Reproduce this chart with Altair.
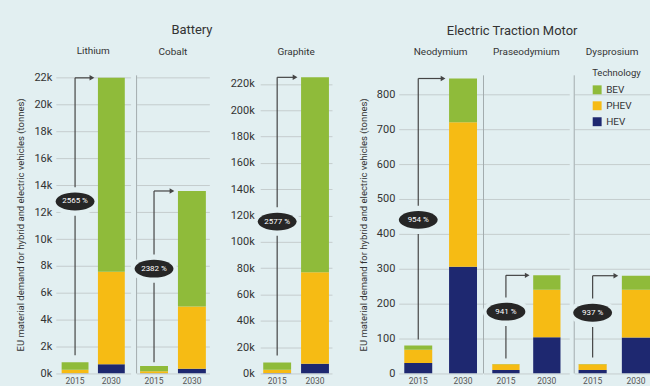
import altair as alt
import pandas as pd

# ---------------- data ----------------
materials = ["Lithium", "Cobalt", "Graphite", "Neodymium", "Praseodymium", "Dysprosium"]
years = ["2015", "2030"]
technologies = ["BEV", "PHEV", "HEV"]
tech_colors = ["#8fbb3a", "#f6bb14", "#1e2870"]

hev_2015 = [20, 10, 300, 30, 10, 10]
phev_2015 = [260, 160, 2500, 38, 16, 16]
bev_2015 = [545, 380, 5600, 12, 1, 1]
hev_2030 = [680, 350, 7300, 306, 104, 103]
phev_2030 = [6880, 4630, 69500, 414, 136, 137]
bev_2030 = [14440, 8600, 148200, 125, 41, 40]

growth_labels = ["2565 %", "2382 %", "2577 %", "954 %", "941 %", "937 %"]
badge_y = [12800, 7800, 115400, 440, 177, 174]
line_start_y = [1360, 840, 13600, 97, 43, 46]

y_max = [22185, 22185, 226500, 854, 854, 854]
li_ticks = [0, 2000, 4000, 6000, 8000, 10000, 12000, 14000, 16000, 18000, 20000, 22000]
gr_ticks = [0, 20000, 40000, 60000, 80000, 100000, 120000, 140000, 160000, 180000, 200000, 220000]
motor_ticks = [0, 100, 200, 300, 400, 500, 600, 700, 800]

AXIS_TITLE = "EU material demand for hybrid and electric vehicles (tonnes)"
K_EXPR = "datum.value / 1000 + 'k'"

# ---------------- style ----------------
BG = "#e2eff1"
LINE = "#454545"
TEXT = "#333333"
FONT = "Roboto"
H = 299
BADGE_PATH = "M-1,0A1,0.46,0,1,1,1,0A1,0.46,0,1,1,-1,0Z"
GAP_PATH = "M-1,0A1,0.62,0,1,1,1,0A1,0.62,0,1,1,-1,0Z"


def bar_frame(i):
    rows = []
    for yr, h, p, b in (("2015", hev_2015[i], phev_2015[i], bev_2015[i]),
                        ("2030", hev_2030[i], phev_2030[i], bev_2030[i])):
        rows.append(dict(year=yr, tech="HEV", value=h, ord=0))
        rows.append(dict(year=yr, tech="PHEV", value=p, ord=1))
        rows.append(dict(year=yr, tech="BEV", value=b, ord=2))
    return pd.DataFrame(rows)


def ann_frame(i):
    top = hev_2030[i] + phev_2030[i] + bev_2030[i]
    return pd.DataFrame({"year": ["2015"], "start": [line_start_y[i]], "top": [top],
                         "badge": [badge_y[i]], "label": [growth_labels[i]]})


def panel(i, width, p_inner, p_outer, ticks, label_expr=None, labels=True,
          title=None, divider=False, legend=None, align=0.5, title_offset=8, label_pad=4):
    step = width / (2 - p_inner + 2 * p_outer)
    bw = step * (1 - p_inner)
    arm = step - bw / 2 - 6

    xscale = alt.Scale(domain=years, paddingInner=p_inner, paddingOuter=p_outer, align=align)
    yscale = alt.Scale(domain=[0, y_max[i]], nice=False)

    ax = dict(values=ticks, grid=True, labels=labels, labelFontSize=11, labelPadding=label_pad)
    if label_expr:
        ax["labelExpr"] = label_expr
    if title:
        ax.update(title=title, titleFontSize=9.5, titlePadding=8)
    else:
        ax["title"] = None
    yaxis = alt.Axis(**ax)
    xaxis = alt.Axis(title=None, labelAngle=0, labelFontSize=8.5, labelPadding=3,
                     labelColor="#555555")

    def X():
        return alt.X("year:N", scale=xscale, axis=xaxis)

    def Y(f):
        return alt.Y(f + ":Q", scale=yscale, axis=yaxis)

    bars = alt.Chart(bar_frame(i)).mark_bar(clip=True).encode(
        x=X(),
        y=alt.Y("value:Q", stack="zero", scale=yscale, axis=yaxis),
        color=alt.Color("tech:N", scale=alt.Scale(domain=technologies, range=tech_colors),
                        legend=legend),
        order=alt.Order("ord:Q", sort="ascending"),
    )
    ann = alt.Chart(ann_frame(i))
    vline = ann.mark_rule(color=LINE, strokeWidth=1.2).encode(x=X(), y=Y("start"), y2="top:Q")
    hline = ann.mark_rule(color=LINE, strokeWidth=1.2, x2Offset=arm).encode(
        x=X(), x2="year:N", y=Y("top"))
    arrow = ann.mark_point(shape="triangle-right", filled=True, size=30, color=LINE,
                           opacity=1, xOffset=arm).encode(x=X(), y=Y("top"))
    badge_bg = ann.mark_point(shape=GAP_PATH, filled=True, size=46 * 46, color=BG,
                              opacity=1).encode(x=X(), y=Y("badge"))
    badge = ann.mark_point(shape=BADGE_PATH, filled=True, size=39 * 39, color="#262626",
                           opacity=1).encode(x=X(), y=Y("badge"))
    text = ann.mark_text(color="white", fontSize=8, font=FONT).encode(
        x=X(), y=Y("badge"), text="label:N")

    layers = [bars]
    if divider:
        layers.append(ann.mark_rule(color="#a3acae", strokeWidth=1).encode(
            x=alt.value(0), y=alt.value(0), y2=alt.value(H)))
    layers += [vline, hline, arrow, badge_bg, badge, text]
    return alt.layer(*layers).properties(
        width=width, height=H,
        title=alt.TitleParams(materials[i], fontSize=10, frame="group", anchor="middle",
                              offset=title_offset, baseline="bottom", color=TEXT, font=FONT,
                              fontWeight="normal"),
    )


legend = alt.Legend(title="Technology", orient="none", legendX=18, legendY=-7,
                    symbolType="square", symbolSize=80, symbolStrokeWidth=0,
                    labelFontSize=10, labelFont=FONT, titleFont=FONT, titleFontSize=9.5,
                    titleFontWeight="normal", titleColor=TEXT, labelColor=TEXT,
                    rowPadding=6, titlePadding=7, padding=0)

li = panel(0, 75, 0.26, 0.16, li_ticks, K_EXPR, title=AXIS_TITLE, title_offset=6)
co = panel(1, 73, 0.263, 0.092, li_ticks, labels=False, divider=True)
gr = panel(2, 72, 0.263, 0.08, gr_ticks, K_EXPR, label_pad=6)
nd = panel(3, 84, 0.376, 0.123, motor_ticks, title=AXIS_TITLE)
pr = panel(4, 86, 0.333, 0.214, motor_ticks, labels=False, divider=True)
dy = panel(5, 76, 0.35, 0.05, motor_ticks, labels=False, divider=True, legend=legend,
           align=1, title_offset=1)

group_title = dict(fontSize=13, offset=-4, anchor="middle", baseline="bottom",
                   color=TEXT, font=FONT, fontWeight="normal")

battery = alt.hconcat(
    alt.hconcat(li, co, spacing=0).resolve_scale(color="independent"),
    gr, spacing=20,
    title=alt.TitleParams("Battery", dx=18, **group_title),
).resolve_scale(color="independent")

motor = alt.hconcat(
    nd, pr, dy, spacing=0,
    title=alt.TitleParams("Electric Traction Motor", dx=8, **group_title),
).resolve_scale(color="independent")

chart = (
    alt.hconcat(battery, motor, spacing=26)
    .resolve_scale(color="independent")
    .configure(background=BG, padding={"left": 16, "top": 23, "right": 0, "bottom": 0},
               font=FONT)
    .configure_view(stroke=None)
    .configure_axis(labelFont=FONT, titleFont=FONT, labelColor=TEXT, titleColor=TEXT,
                    gridColor="#c5cdce", gridWidth=1, domain=False, ticks=False,
                    titleFontWeight="normal")
)

chart.save("out.html", embed_options={"renderer": "svg", "actions": False})
